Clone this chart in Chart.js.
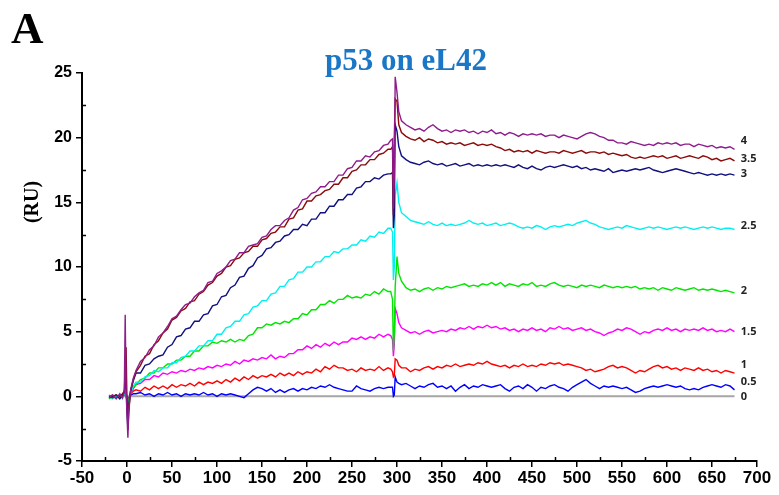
<!DOCTYPE html>
<html>
<head>
<meta charset="utf-8">
<title>p53 on eL42</title>
<script src="https://cdn.jsdelivr.net/npm/chart.js@4.4.1/dist/chart.umd.min.js"></script>
<style>
  html, body { margin: 0; padding: 0; background: #fff; }
  #wrap { width: 779px; height: 495px; }
</style>
</head>
<body>
<div id="wrap"><canvas id="sprChart" width="779" height="495"></canvas></div>
<script>
// time points (s): baseline, association, injection end, dissociation
const times = [
  -20, -16, -12, -8, -5, -3, -2, -1, 0, 1, 2, 4, 7, 10,
  15, 20, 25, 30, 35, 40, 45, 50, 55, 60, 65, 70, 75, 80, 85, 90, 95, 100, 105, 110,
  115, 120, 125, 130, 135, 140, 145, 150, 155, 160, 165, 170, 175, 180, 185, 190, 195, 200,
  205, 210, 215, 220, 225, 230, 235, 240, 245, 250, 255, 260, 265, 270, 275, 280, 285, 290,
  293, 295, 296, 297, 298, 300, 302, 305,
  310, 315, 320, 325, 330, 335, 340, 345, 350, 355, 360, 365, 370, 375, 380, 385, 390, 395,
  400, 405, 410, 415, 420, 425, 430, 435, 440, 445, 450, 455, 460, 465, 470, 475, 480, 485,
  490, 495, 500, 505, 510, 515, 520, 525, 530, 535, 540, 545, 550, 555, 560, 565, 570, 575,
  580, 585, 590, 595, 600, 605, 610, 615, 620, 625, 630, 635, 640, 645, 650, 655, 660, 665,
  670, 675
];

// response (RU) per concentration
const conc4 = [
  -0.1, 0.1, -0.2, 0.2, -0.1, 0.3, 6.3, 0.5, -1.5, -3.2, -1.0, 0.5, 1.4, 2.0,
  2.7, 3.0, 3.6, 3.9, 4.6, 4.9, 5.4, 6.0, 6.2, 6.7, 7.1, 7.2, 7.7, 8.0, 8.2, 8.8, 8.9, 9.5, 9.7, 10.0,
  10.5, 10.6, 11.1, 11.1, 11.6, 11.7, 11.8, 12.3, 12.4, 12.9, 13.2, 13.2, 13.6, 13.8, 14.4, 14.6, 15.2, 15.3,
  15.7, 15.8, 16.2, 16.2, 16.6, 16.6, 17.1, 17.1, 17.6, 17.7, 18.2, 18.2, 18.6, 18.5, 18.9, 19.0, 19.4, 19.5,
  19.8, 19.9, 14.5, 17.0, 24.7, 23.5, 22.0, 21.3,
  21.0, 20.8, 20.6, 20.7, 20.5, 20.8, 21.0, 20.7, 20.5, 20.6, 20.4, 20.6, 20.5, 20.6, 20.4, 20.5, 20.3, 20.5,
  20.4, 20.6, 20.3, 20.4, 20.2, 20.4, 20.3, 20.1, 20.3, 20.2, 20.3, 20.2, 20.3, 20.1, 20.2, 20.2, 20.0, 20.2,
  20.1, 20.0, 19.9, 20.1, 20.3, 20.4, 20.3, 20.1, 20.0, 19.8, 19.8, 19.6, 19.6, 19.5, 19.7, 19.6, 19.5, 19.4,
  19.5, 19.4, 19.6, 19.5, 19.6, 19.5, 19.6, 19.4, 19.5, 19.5, 19.3, 19.5, 19.4, 19.3, 19.4, 19.2, 19.3, 19.2,
  19.3, 19.1
];
const conc35 = [
  0.0, -0.1, 0.1, 0.0, 0.2, 0.4, 2.2, 3.8, -0.5, -2.6, -1.2, 0.4, 1.3, 1.9,
  2.4, 3.1, 3.3, 4.0, 4.3, 4.9, 5.2, 5.9, 6.1, 6.6, 6.8, 7.3, 7.4, 7.9, 8.1, 8.6, 8.8, 9.3, 9.5, 10.0,
  10.1, 10.6, 10.7, 11.1, 11.2, 11.6, 11.6, 12.1, 12.2, 12.6, 12.7, 13.1, 13.1, 13.7, 13.8, 14.4, 14.5, 15.1,
  15.1, 15.5, 15.6, 15.9, 16.0, 16.4, 16.4, 16.9, 16.9, 17.4, 17.5, 17.9, 17.9, 18.3, 18.3, 18.7, 18.8, 19.1,
  19.1, 19.3, 14.0, 20.0, 23.0, 22.8, 21.0, 20.4,
  20.1, 19.9, 19.8, 20.0, 19.7, 19.9, 19.8, 19.6, 19.7, 19.5, 19.6, 19.5, 19.6, 19.4, 19.5, 19.6, 19.4, 19.5,
  19.4, 19.5, 19.3, 19.2, 19.0, 19.1, 18.9, 19.0, 18.9, 19.0, 18.8, 19.0, 18.9, 18.8, 18.9, 18.9, 18.8, 19.0,
  18.9, 18.8, 18.9, 19.0, 18.8, 18.9, 18.9, 18.8, 18.9, 18.7, 18.8, 18.7, 18.6, 18.7, 18.5, 18.4, 18.5, 18.4,
  18.5, 18.6, 18.5, 18.6, 18.4, 18.5, 18.6, 18.4, 18.5, 18.6, 18.5, 18.4, 18.6, 18.5, 18.3, 18.4, 18.2, 18.3,
  18.4, 18.2
];
const conc3 = [
  -0.1, 0.0, 0.1, -0.2, 0.1, 0.3, 1.2, 0.8, -0.8, -2.0, -0.6, 0.4, 1.2, 1.8,
  1.8, 2.4, 2.5, 2.9, 3.1, 3.2, 3.8, 4.0, 4.6, 4.7, 5.2, 5.3, 5.8, 5.8, 6.3, 6.4, 7.0, 7.1, 7.7, 7.8,
  8.4, 8.6, 9.2, 9.3, 9.9, 10.1, 10.7, 10.9, 11.4, 11.5, 11.9, 12.0, 12.4, 12.5, 12.9, 12.9, 13.3, 13.2,
  13.7, 13.7, 14.2, 14.2, 14.7, 14.7, 15.2, 15.2, 15.6, 15.6, 16.1, 16.2, 16.6, 16.6, 16.9, 16.8, 17.1, 17.2,
  17.2, 17.3, 13.0, 14.0, 21.0, 20.5, 19.3, 18.6,
  18.3, 18.1, 18.0, 17.9, 18.1, 18.2, 18.0, 17.9, 18.0, 17.8, 17.9, 18.0, 17.8, 17.9, 18.0, 17.8, 17.9, 17.8,
  17.9, 17.8, 17.9, 17.8, 17.9, 17.8, 17.7, 17.9, 17.7, 17.6, 17.8, 17.6, 17.5, 17.7, 17.8, 17.7, 17.8, 17.9,
  17.8, 17.7, 17.8, 17.6, 17.7, 17.5, 17.6, 17.5, 17.4, 17.6, 17.3, 17.4, 17.5, 17.4, 17.5, 17.6, 17.5, 17.6,
  17.7, 17.5, 17.4, 17.3, 17.4, 17.5, 17.6, 17.5, 17.4, 17.3, 17.2, 17.3, 17.2, 17.1, 17.2, 17.1, 17.2, 17.1,
  17.2, 17.1
];
const conc25 = [
  0.0, -0.2, 0.0, 0.1, -0.2, 0.2, 0.8, 0.4, -1.2, -2.4, -0.8, 0.3, 0.8, 1.1,
  1.1, 1.5, 1.6, 2.0, 1.9, 2.2, 2.2, 2.6, 2.6, 3.0, 3.1, 3.5, 3.5, 3.9, 3.9, 4.3, 4.3, 4.8, 4.8, 5.3,
  5.4, 5.8, 5.8, 6.3, 6.4, 6.9, 7.0, 7.4, 7.4, 7.9, 8.0, 8.5, 8.5, 9.0, 9.1, 9.6, 9.6, 10.0,
  10.0, 10.4, 10.4, 10.8, 10.8, 11.2, 11.1, 11.4, 11.4, 11.7, 11.7, 12.1, 12.0, 12.4, 12.3, 12.7, 12.6, 13.0,
  13.0, 12.7, 9.0, 10.0, 15.5, 16.5, 15.0, 14.2,
  13.9, 13.6, 13.5, 13.4, 13.3, 13.5, 13.3, 13.2, 13.4, 13.2, 13.3, 13.2, 13.3, 13.4, 13.6, 13.4, 13.3, 13.4,
  13.2, 13.3, 13.4, 13.2, 13.3, 13.4, 13.3, 13.1, 13.0, 13.1, 13.0, 13.2, 13.1, 12.9, 13.1, 13.2, 13.1, 13.2,
  13.3, 13.2, 13.4, 13.5, 13.6, 13.4, 13.3, 13.1, 13.0, 12.9, 13.0, 13.1, 13.0, 13.2, 13.1, 13.0, 12.9, 13.0,
  13.1, 13.0, 13.1, 13.0, 12.9, 13.0, 13.1, 13.0, 13.1, 13.0, 12.9, 13.0, 13.1, 13.0, 13.1, 13.0, 12.9, 13.0,
  13.0, 12.9
];
const conc2 = [
  -0.2, 0.0, 0.1, -0.1, 0.0, 0.2, 1.0, 0.5, -0.6, -1.4, -0.3, 0.3, 0.7, 0.9,
  1.3, 1.4, 1.8, 1.8, 2.2, 2.2, 2.5, 2.5, 2.8, 2.8, 3.1, 3.1, 3.5, 3.5, 3.9, 3.9, 4.2, 4.1, 4.3, 4.2,
  4.4, 4.2, 4.4, 4.3, 4.7, 4.8, 5.3, 5.3, 5.6, 5.5, 5.7, 5.6, 5.8, 5.7, 6.0, 6.0, 6.4, 6.3,
  6.7, 6.7, 7.1, 7.1, 7.4, 7.2, 7.5, 7.5, 7.8, 7.6, 7.7, 7.6, 7.9, 7.8, 8.1, 7.9, 8.3, 8.1,
  8.1, 7.5, 3.5, 5.0, 8.5, 10.8, 9.5, 8.9,
  8.4, 8.2, 8.3, 8.1, 8.3, 8.4, 8.2, 8.4, 8.3, 8.5, 8.4, 8.5, 8.6, 8.7, 8.5, 8.6, 8.5, 8.7,
  8.6, 8.8, 8.6, 8.8, 8.5, 8.7, 8.6, 8.5, 8.7, 8.6, 8.8, 8.5, 8.6, 8.5, 8.7, 8.8, 8.6, 8.5,
  8.6, 8.5, 8.4, 8.6, 8.5, 8.6, 8.5, 8.4, 8.6, 8.5, 8.4, 8.5, 8.4, 8.5, 8.4, 8.5, 8.3, 8.4,
  8.3, 8.4, 8.2, 8.4, 8.3, 8.2, 8.4, 8.3, 8.2, 8.3, 8.4, 8.2, 8.3, 8.2, 8.3, 8.2, 8.1, 8.2,
  8.1, 8.0
];
const conc15 = [
  0.1, -0.1, 0.0, 0.1, -0.1, 0.3, 0.6, 0.2, -0.5, -1.6, -0.4, 0.2, 0.6, 0.9,
  1.0, 1.3, 1.3, 1.6, 1.5, 1.8, 1.7, 1.9, 1.8, 2.0, 1.9, 2.1, 2.0, 2.2, 2.1, 2.3, 2.2, 2.4, 2.3, 2.5,
  2.4, 2.7, 2.5, 2.8, 2.7, 2.9, 2.8, 3.0, 2.9, 3.2, 2.9, 3.1, 3.0, 3.3, 3.3, 3.6, 3.6, 3.9,
  3.7, 4.0, 3.8, 4.1, 3.9, 4.2, 4.0, 4.2, 4.2, 4.5, 4.4, 4.6, 4.4, 4.6, 4.5, 4.8, 4.6, 4.8,
  4.7, 4.4, 3.1, 4.0, 6.8, 6.4, 5.7, 5.3,
  5.1, 4.9, 5.0, 4.8, 5.0, 5.1, 4.9, 5.0, 5.1, 5.0, 5.2, 5.1, 5.3, 5.2, 5.4, 5.2, 5.4, 5.3,
  5.5, 5.3, 5.4, 5.2, 5.3, 5.1, 5.2, 5.0, 5.2, 5.1, 5.3, 5.1, 5.2, 5.0, 5.3, 5.2, 5.4, 5.2,
  5.3, 5.1, 5.2, 5.3, 5.1, 5.2, 5.0, 4.9, 4.7, 4.9, 5.0, 5.2, 5.1, 5.3, 5.2, 5.0, 4.8, 5.0,
  4.9, 5.1, 5.2, 5.1, 5.3, 5.1, 5.2, 5.0, 5.2, 5.1, 5.2, 5.1, 5.3, 5.1, 5.2, 5.0, 5.1, 5.0,
  5.2, 5.0
];
const conc1 = [
  0.0, 0.1, -0.1, 0.0, 0.1, 0.2, 0.4, 0.1, -0.4, -1.0, -0.2, 0.2, 0.4, 0.5,
  0.4, 0.7, 0.5, 0.8, 0.6, 0.8, 0.6, 0.9, 0.7, 0.9, 0.8, 1.0, 0.8, 1.1, 0.9, 1.1, 1.0, 1.2, 1.0, 1.3,
  1.1, 1.4, 1.2, 1.5, 1.3, 1.6, 1.4, 1.6, 1.5, 1.7, 1.5, 1.8, 1.6, 1.8, 1.6, 1.9, 1.7, 1.9,
  1.8, 2.1, 1.9, 2.3, 2.1, 2.4, 2.2, 2.2, 2.0, 2.1, 1.9, 2.2, 2.0, 2.1, 2.0, 2.3, 2.0, 2.2,
  2.1, 1.9, 1.5, 1.6, 2.9, 2.8, 2.4, 2.2,
  2.2, 1.9, 2.1, 2.0, 2.2, 2.3, 2.1, 2.3, 2.2, 2.4, 2.3, 2.5, 2.3, 2.4, 2.5, 2.4, 2.6, 2.5,
  2.7, 2.5, 2.4, 2.3, 2.4, 2.2, 2.4, 2.3, 2.5, 2.3, 2.4, 2.3, 2.5, 2.4, 2.6, 2.5, 2.6, 2.4,
  2.5, 2.4, 2.3, 2.2, 2.0, 2.1, 1.9, 2.0, 2.1, 2.3, 2.4, 2.2, 2.3, 2.2, 2.0, 1.8, 2.0, 1.9,
  2.1, 2.3, 2.4, 2.2, 2.3, 2.1, 2.2, 2.0, 2.2, 2.1, 2.0, 2.2, 2.0, 2.1, 1.9, 2.0, 1.8, 2.0,
  1.9, 1.8
];
const conc05 = [
  -0.1, 0.0, 0.1, -0.1, 0.0, 0.1, 0.9, 0.3, -0.3, -0.8, -0.1, 0.1, 0.2, 0.2,
  0.3, 0.1, 0.2, 0.0, 0.2, 0.1, 0.3, 0.1, 0.2, 0.0, 0.2, 0.1, 0.2, 0.1, 0.3, 0.1, 0.2, 0.0, 0.2, 0.1,
  0.2, 0.1, 0.0, -0.1, 0.2, 0.5, 0.7, 0.6, 0.4, 0.6, 0.3, 0.5, 0.3, 0.5, 0.6, 0.4, 0.6, 0.5,
  0.7, 0.6, 0.8, 0.7, 0.9, 0.7, 0.6, 0.5, 0.4, 0.4, 0.8, 0.6, 0.5, 0.4, 0.6, 0.7, 0.6, 0.7,
  0.7, 0.7, 0.0, 0.1, 1.5, 1.1, 1.0, 0.9,
  1.0, 0.8, 0.6, 0.8, 0.7, 0.9, 1.0, 0.7, 0.8, 0.6, 0.8, 0.4, 0.7, 0.9, 0.6, 0.8, 0.7, 0.9,
  0.8, 0.7, 0.8, 0.9, 0.6, 0.4, 0.7, 0.8, 0.6, 0.9, 0.7, 0.4, 0.7, 0.6, 0.8, 0.9, 0.7, 0.6,
  0.4, 0.7, 0.9, 1.1, 1.3, 1.0, 0.8, 0.6, 0.8, 0.7, 0.8, 0.7, 0.6, 0.7, 0.5, 0.3, 0.4, 0.6,
  0.7, 0.8, 0.7, 0.8, 0.9, 0.8, 0.7, 0.8, 0.6, 0.5, 0.6, 0.5, 0.7, 0.8, 0.9, 0.8, 0.7, 0.9,
  0.8, 0.5
];
// blank (0) channel: flat reference line
const zeroTimes = [-20, 675];
const zeroValues = [0, 0];

const concLabels = ['4', '3.5', '3', '2.5', '2', '1.5', '1', '0.5', '0'];
const xTicks = [-50, 0, 50, 100, 150, 200, 250, 300, 350, 400, 450, 500, 550, 600, 650, 700];
const yTicks = [-5, 0, 5, 10, 15, 20, 25];

const seriesValues = [conc4, conc35, conc3, conc25, conc2, conc15, conc1, conc05];
const seriesColors = ['#8e1c8c', '#8b0a0a', '#10107e', '#00f0f0', '#00e600', '#ff00ff', '#ff0000', '#0000ff'];
const zeroColor = '#a6a6a6';

var datasets = seriesValues.map(function (vals, i) {
    return {
        label: concLabels[i],
        data: times.map(function (t, j) { return { x: t, y: vals[j] }; }),
        borderColor: seriesColors[i],
        borderWidth: 1.4,
        pointRadius: 0,
        tension: 0
    };
});
datasets.push({
    label: '0',
    data: zeroTimes.map(function (t, j) { return { x: t, y: zeroValues[j] }; }),
    borderColor: zeroColor,
    borderWidth: 2,
    pointRadius: 0
});

// extra text + minor ticks
const decorPlugin = {
    id: 'decor',
    afterDraw: function (chart) {
        var ctx = chart.ctx;
        var xs = chart.scales.x, ys = chart.scales.y;
        var area = chart.chartArea;
        ctx.save();

        // minor ticks
        ctx.strokeStyle = '#000';
        ctx.lineWidth = 1.5;
        ctx.beginPath();
        for (var v = -25; v < 700; v += 50) {
            var px = Math.round(xs.getPixelForValue(v)) + 0.5;
            ctx.moveTo(px, area.bottom);
            ctx.lineTo(px, area.bottom - 4);
        }
        for (var w = -2.5; w < 25; w += 5) {
            var py = Math.round(ys.getPixelForValue(w)) + 0.5;
            ctx.moveTo(area.left, py);
            ctx.lineTo(area.left + 4, py);
        }
        ctx.stroke();

        // panel letter
        ctx.fillStyle = '#000';
        ctx.font = 'bold 45px "Liberation Serif", "Times New Roman", serif';
        ctx.textAlign = 'left';
        ctx.textBaseline = 'alphabetic';
        ctx.fillText('A', 11, 43);

        // title
        ctx.fillStyle = '#1a76c6';
        ctx.font = 'bold 31px "Liberation Serif", "Times New Roman", serif';
        ctx.textAlign = 'center';
        ctx.fillText('p53 on eL42', 406, 70);

        // y axis title
        ctx.save();
        ctx.translate(33, 202);
        ctx.rotate(-Math.PI / 2);
        ctx.fillStyle = '#000';
        ctx.font = 'bold 20px "Liberation Serif", "Times New Roman", serif';
        ctx.textAlign = 'center';
        ctx.textBaseline = 'middle';
        ctx.fillText('(RU)', 0, 0);
        ctx.restore();

        // concentration labels at curve ends
        var nudge = [-8, -2, -1, -4, -2, 0, -8, -8, 1];
        ctx.fillStyle = '#222';
        ctx.font = 'bold 11px "Open Sans", "DejaVu Sans", sans-serif';
        ctx.textAlign = 'left';
        ctx.textBaseline = 'middle';
        chart.data.datasets.forEach(function (ds, i) {
            var last = ds.data[ds.data.length - 1];
            var y = ys.getPixelForValue(last.y) + nudge[i];
            ctx.fillText(concLabels[i], xs.getPixelForValue(682), y);
        });
        ctx.restore();
    }
};

const ctx = document.getElementById('sprChart');

new Chart(ctx, {
    type: 'line',
    data: { datasets: datasets },
    options: {
        responsive: false,
        animation: false,
        layout: { padding: { top: 73, right: 22, left: 0, bottom: 0 } },
        plugins: {
            legend: { display: false },
            tooltip: { enabled: false },
            title: { display: false }
        },
        scales: {
            x: {
                type: 'linear',
                min: -50,
                max: 700,
                afterFit: function (scale) { scale.height = 34; },
                afterBuildTicks: function (scale) {
                    scale.ticks = xTicks.map(function (v) { return { value: v }; });
                },
                border: { display: true, color: '#000', width: 2 },
                grid: { drawOnChartArea: false, drawTicks: true, tickLength: 6, color: '#000', lineWidth: 1.5 },
                ticks: {
                    color: '#000',
                    padding: 1,
                    maxRotation: 0,
                    autoSkip: false,
                    font: { family: '"Liberation Sans", Arial, sans-serif', size: 17, weight: 'bold' }
                }
            },
            y: {
                type: 'linear',
                min: -5,
                max: 25,
                afterFit: function (scale) { scale.width = 82; },
                afterBuildTicks: function (scale) {
                    scale.ticks = yTicks.map(function (v) { return { value: v }; });
                },
                border: { display: true, color: '#000', width: 2 },
                grid: { drawOnChartArea: false, drawTicks: true, tickLength: 6, color: '#000', lineWidth: 1.5 },
                ticks: {
                    color: '#000',
                    padding: 4,
                    font: { family: '"Liberation Sans", Arial, sans-serif', size: 16, weight: 'bold' }
                }
            }
        }
    },
    plugins: [decorPlugin]
});
</script>
</body>
</html>
